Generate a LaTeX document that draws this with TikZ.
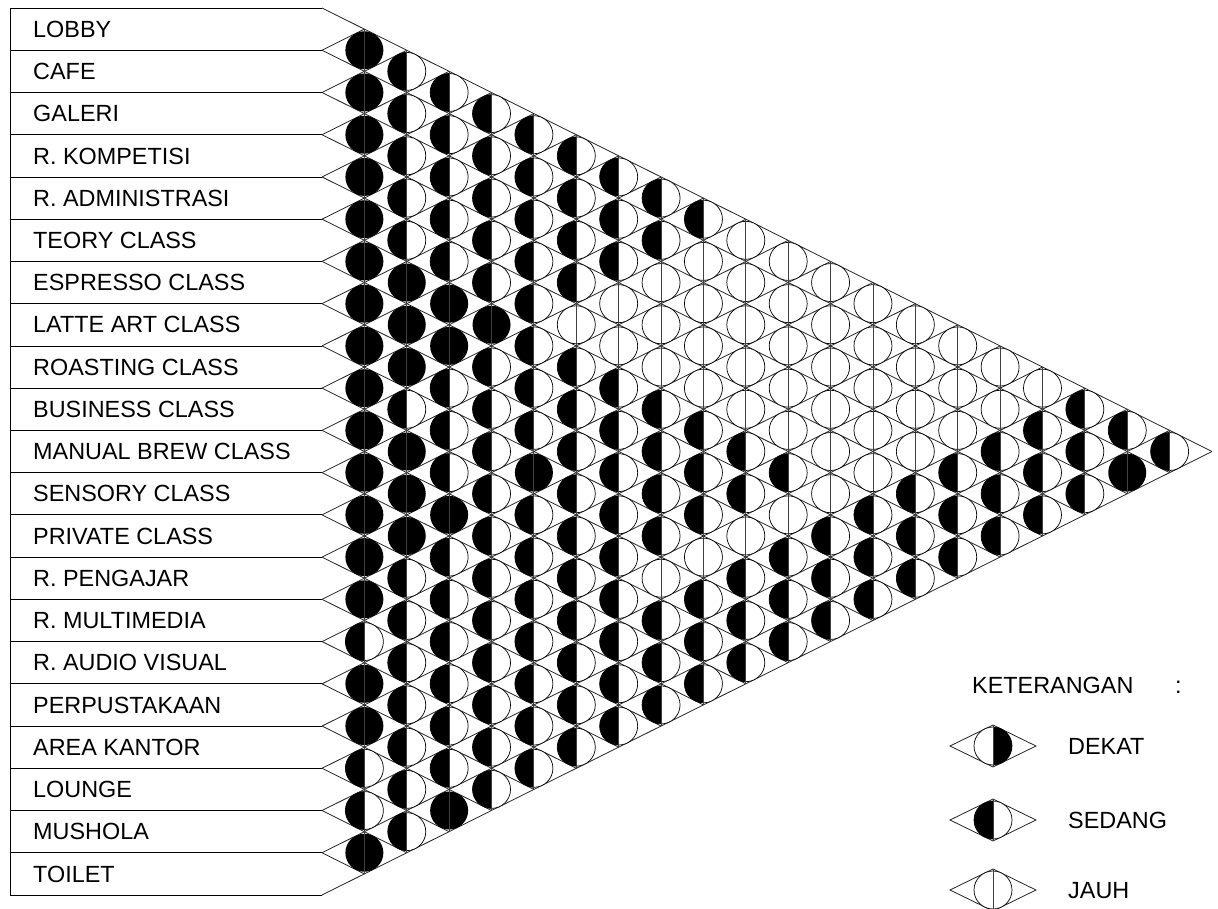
\documentclass[tikz,border=0pt]{standalone}
\usepackage{fontspec}
\setmainfont{Liberation Sans}
\newcommand\circr{19}
\newcommand\colw{42.381}
\newcommand\rowh{42.238}
\newcommand\halfh{21.119}
\newcommand\mycellF[1]{\fill (#1) circle[radius=\circr];}
\newcommand\mycellJ[1]{\filldraw[fill=white,line width=0.7pt] (#1) circle[radius=\circr];}
\newcommand\mycellS[1]{\filldraw[fill=white,line width=0.7pt] (#1) circle[radius=\circr];
  \fill (#1) ++(0,\circr) arc[start angle=90,end angle=270,radius=\circr] -- cycle;}
\newcommand\mycellD[1]{\filldraw[fill=white,line width=0.7pt] (#1) circle[radius=\circr];
  \fill (#1) ++(0,\circr) arc[start angle=90,end angle=-90,radius=\circr] -- cycle;}
\begin{document}
\begin{tikzpicture}[x=1pt,y=1pt,
  gridline/.style={line width=0.8pt,black!85},
  boxline/.style={line width=0.8pt,black},
  vline/.style={line width=0.9pt,black!75},
  lab/.style={anchor=base west,inner sep=0pt,font=\fontsize{23.4}{27}\selectfont}]
\useasboundingbox (0,0) rectangle (1218,-909);
% label boxes and grid lines
\draw[boxline] (10,-8) -- (10,-895);
\foreach \k in {0,...,21}{
  \pgfmathsetmacro\yk{8+\rowh*\k}
  \pgfmathsetmacro\xd{322+\colw*(21-\k)}
  \pgfmathsetmacro\yd{(\yk+895)/2}
  \pgfmathsetmacro\xu{322+\colw*\k}
  \pgfmathsetmacro\yu{(\yk+8)/2}
  \coordinate (b\k) at (322,-\yk);
  \draw[boxline] (10,-\yk) -- (b\k);
  \draw[gridline] (b\k) -- (\xd,-\yd);
  \draw[gridline] (b\k) -- (\xu,-\yu);
}
% labels
\foreach \n [count=\i] in {LOBBY,CAFE,GALERI,R. KOMPETISI,R. ADMINISTRASI,TEORY CLASS,ESPRESSO CLASS,LATTE ART CLASS,ROASTING CLASS,BUSINESS CLASS,MANUAL BREW CLASS,SENSORY CLASS,PRIVATE CLASS,R. PENGAJAR,R. MULTIMEDIA,R. AUDIO VISUAL,PERPUSTAKAAN,AREA KANTOR,LOUNGE,MUSHOLA,TOILET}{
  \pgfmathsetmacro\ly{8+\rowh*(\i-0.5)+8.2}
  \node[lab] (lab\i) at (33,-\ly) {\n};
}
% cells
\foreach \k/\lst in {
 1/{F,F,F,F,F,F,F,F,F,F,F,F,F,F,S,F,F,S,S,F},
 2/{S,S,S,S,S,F,F,F,S,F,F,F,S,S,S,S,S,S,S},
 3/{S,S,S,S,S,F,F,S,S,S,F,S,S,S,S,S,S,F},
 4/{S,S,S,S,S,F,S,S,S,S,S,S,S,S,S,S,S},
 5/{S,S,S,S,S,S,S,S,F,S,S,S,S,S,S,S},
 6/{S,S,S,S,J,S,S,S,S,S,S,S,S,S,S},
 7/{S,S,S,J,J,S,S,S,S,S,S,S,S,S},
 8/{S,S,J,J,J,S,S,S,S,J,S,S,S},
 9/{S,J,J,J,J,S,S,S,J,S,S,S},
 10/{J,J,J,J,J,S,S,J,S,S,S},
 11/{J,J,J,J,J,S,J,S,S,S},
 12/{J,J,J,J,J,J,S,S,S},
 13/{J,J,J,J,J,S,S,S},
 14/{J,J,J,J,S,S,S},
 15/{J,J,J,S,S,S},
 16/{J,J,S,S,S},
 17/{J,S,S,S},
 18/{S,S,S},
 19/{S,F},
 20/{S}}{
  \foreach \t [count=\i] in \lst {
    \pgfmathsetmacro\cx{322+\colw*\k}
    \pgfmathsetmacro\cy{8+\halfh*(2*\i+\k-1)}
    \csname mycell\t\endcsname{\cx,-\cy}
  }
}
% vertical lines of columns
\foreach \k in {1,...,20}{
  \pgfmathsetmacro\vx{322+\colw*\k}
  \pgfmathsetmacro\vt{8+\halfh*\k}
  \pgfmathsetmacro\vb{895-\halfh*\k}
  \draw[vline] (\vx,-\vt) -- (\vx,-\vb);
}
% legend
\node[lab] (ket) at (972,-693) {KETERANGAN};
\node[lab] (colon) at (1175,-693) {:};
\foreach \yy/\t/\txt/\nm in {746/D/DEKAT/dekat,820/S/SEDANG/sedang,890/J/JAUH/jauh}{
  \draw[gridline] (950,-\yy) -- (993,-\yy+21) -- (1036,-\yy) -- (993,-\yy-21) -- cycle;
  \csname mycell\t\endcsname{993,-\yy}
  \draw[vline] (993,-\yy+21) -- (993,-\yy-21);
  \node[lab] (\nm) at (1068,-\yy-8.2) {\txt};
}
\end{tikzpicture}
\end{document}
